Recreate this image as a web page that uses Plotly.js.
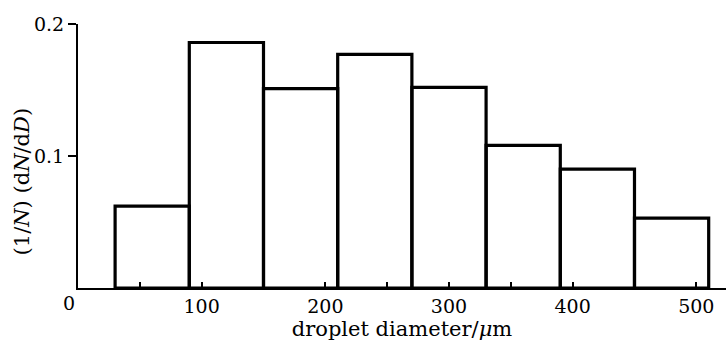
<!DOCTYPE html>
<html>
<head>
<meta charset="utf-8">
<script src="https://cdn.plot.ly/plotly-3.0.1.min.js"></script>
<style>html,body{margin:0;padding:0;background:#fff;}#chart{width:726px;height:345px;}</style>
</head>
<body>
<div id="chart"></div>
<script>
// bin centres (μm), bin width 60 μm
const binCenters = [60, 120, 180, 240, 300, 360, 420, 480];
const binWidths = [60, 60, 60, 60, 60, 60, 60, 60];
const density = [0.062, 0.186, 0.151, 0.177, 0.152, 0.108, 0.090, 0.053];
const xTickVals = [0, 50, 100, 150, 200, 250, 300, 350, 400, 450, 500];
const xTickText = ['', '', '100', '', '200', '', '300', '', '400', '', '500'];
const yTickVals = [0.1, 0.2];
const yTickText = ['0.1', '0.2'];
const xTitle = 'droplet diameter/<i>μ</i>m';
const yTitle = '(1/<i>N</i>) (d<i>N</i>/d<i>D</i>)';

const font = 'DejaVu Serif, Liberation Serif, serif';
const ink = '#000';

const trace = {
  type: 'bar',
  x: binCenters,
  y: density,
  width: binWidths,
  marker: {color: 'rgba(255,255,255,0)', line: {color: ink, width: 3.2}},
  hoverinfo: 'skip'
};

const layout = {
  width: 726, height: 345,
  margin: {l: 78, r: 0, t: 24, b: 57},
  paper_bgcolor: '#fff', plot_bgcolor: '#fff',
  showlegend: false,
  font: {family: font, color: ink, size: 19},
  xaxis: {
    range: [0, 524],
    tickvals: xTickVals, ticktext: xTickText,
    ticks: 'inside', ticklen: 6, tickwidth: 2, tickcolor: ink,
    showline: true, linecolor: ink, linewidth: 2,
    showgrid: false, zeroline: false,
    tickfont: {family: font, size: 19, color: ink},
    title: {text: xTitle, font: {family: font, size: 21, color: ink}, standoff: 6}
  },
  yaxis: {
    range: [0, 0.2],
    tickvals: yTickVals, ticktext: yTickText,
    ticks: 'outside', ticklen: 8, tickwidth: 2, tickcolor: ink,
    showline: true, linecolor: ink, linewidth: 2,
    showgrid: false, zeroline: false,
    tickfont: {family: font, size: 19, color: ink}
  },
  annotations: [{
    x: 0, y: 0, xref: 'x', yref: 'y', text: '0', showarrow: false,
    xanchor: 'center', yanchor: 'top', xshift: -9, yshift: -2,
    font: {family: font, size: 19, color: ink}
  }, {
    x: 0, y: 0.40, xref: 'paper', yref: 'paper', text: yTitle, showarrow: false,
    textangle: -90, xanchor: 'center', yanchor: 'middle', xshift: -56,
    font: {family: font, size: 21, color: ink}
  }]
};

Plotly.newPlot('chart', [trace], layout, {staticPlot: true, displayModeBar: false});
</script>
</body>
</html>
